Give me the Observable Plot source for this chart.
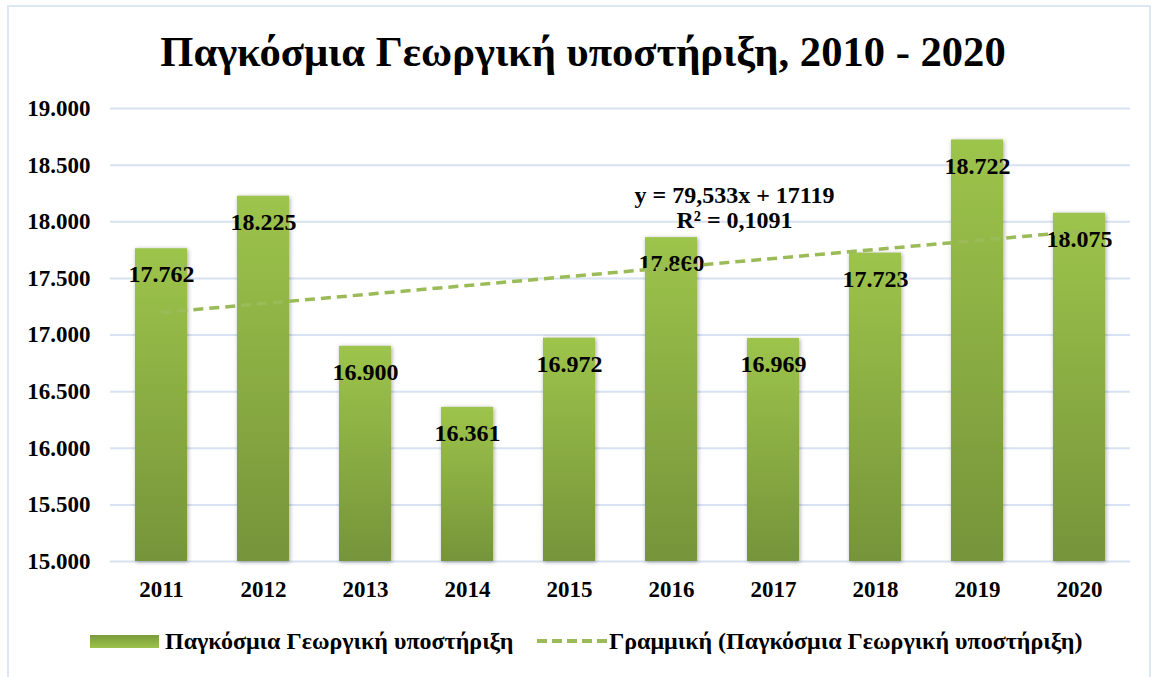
<!DOCTYPE html>
<html>
<head>
<meta charset="utf-8">
<script src="https://cdn.jsdelivr.net/npm/d3@7"></script>
<script src="https://cdn.jsdelivr.net/npm/@observablehq/plot@0.6"></script>
<style>
  body { margin: 0; background: #fff; font-family: "Liberation Serif", "Times New Roman", serif; }
  #page { position: relative; width: 1153px; height: 677px; overflow: hidden; }
  #frame { position: absolute; left: 7px; top: 5px; width: 1144px; height: 700px; border: 2px solid #dce6f4; box-sizing: border-box; }
  #title { position: absolute; left: 0; top: 22px; width: 1166px; height: 60px; line-height: 60px; text-align: center; font-weight: bold; font-size: 42.6px; color: #000; white-space: nowrap; }
  #chart { position: absolute; left: 0; top: 80px; }
  #legend { position: absolute; left: 0; top: 626px; width: 1153px; height: 30px; font-weight: bold; font-size: 24px; color: #000; }
  .lg { position: absolute; white-space: nowrap; line-height: 30px; top: 0; }
</style>
</head>
<body>
<div id="page">
  <div id="frame"></div>
  <div id="title"></div>
  <div id="chart"></div>
  <div id="legend"></div>
</div>
<script>
const titleText = "Παγκόσμια Γεωργική υποστήριξη, 2010 - 2020";
const seriesName = "Παγκόσμια Γεωργική υποστήριξη";
const trendName = "Γραμμική (Παγκόσμια Γεωργική υποστήριξη)";
const years = ["2011", "2012", "2013", "2014", "2015", "2016", "2017", "2018", "2019", "2020"];
const values = [17762, 18225, 16900, 16361, 16972, 17860, 16969, 17723, 18722, 18075];
const yTicks = [15000, 15500, 16000, 16500, 17000, 17500, 18000, 18500, 19000];
const trendSlope = 79.533;
const trendIntercept = 17119;
const trendR2 = "0,1091";
const equationLines = ["y = 79,533x + 17119", "R² = " + trendR2];

const loc = d3.formatLocale({decimal: ",", thousands: ".", grouping: [3], currency: ["", "€"]});
const fmt = loc.format(",.0f");

const data = years.map((year, i) => ({year, value: values[i]}));
const trend = years.map((year, i) => ({year, value: trendIntercept + trendSlope * (i + 1)}));

document.getElementById("title").textContent = titleText;

const NS = "http://www.w3.org/2000/svg";
function defsMark() {
  const defs = document.createElementNS(NS, "defs");
  const g = document.createElementNS(NS, "linearGradient");
  g.setAttribute("id", "barGrad");
  g.setAttribute("x1", "0"); g.setAttribute("y1", "0");
  g.setAttribute("x2", "0"); g.setAttribute("y2", "1");
  [["0%", "#9dc44b"], ["100%", "#76943a"]].forEach(([o, c]) => {
    const s = document.createElementNS(NS, "stop");
    s.setAttribute("offset", o); s.setAttribute("stop-color", c);
    g.appendChild(s);
  });
  defs.appendChild(g);
  return defs;
}

const font = "'Liberation Serif', 'Times New Roman', serif";
const chart = Plot.plot({
  width: 1153,
  height: 530,
  marginLeft: 110,
  marginRight: 23,
  marginTop: 28,
  marginBottom: 49,
  style: {fontFamily: font, fontWeight: "bold", fontSize: "23px", color: "#000", background: "transparent", overflow: "visible"},
  x: {domain: years, paddingInner: 0.49, paddingOuter: 0.245, round: false, label: null},
  y: {domain: [15000, 19000], label: null},
  marks: [
    defsMark,
    Plot.ruleY(yTicks, {stroke: "#d7e2f2", strokeWidth: 2, strokeOpacity: 1}),
    Plot.barY(data, {x: "year", y1: 15000, y2: "value", fill: "url(#barGrad)"}),
    Plot.text(data, {x: "year", y: "value", text: d => fmt(d.value), dy: 26, fontSize: 24, fontWeight: "bold", fill: "#000"}),
    Plot.line(trend, {x: "year", y: "value", stroke: "#9bbb59", strokeWidth: 3.5, strokeDasharray: "10,6", strokeLinecap: "butt"}),
    Plot.text([equationLines.join("\n")], {x: () => "2016", y: () => 18122, dx: 63, text: d => d, fontSize: 24, fontWeight: "bold", lineHeight: 1.04, fill: "#000"}),
    Plot.axisX({tickSize: 0, tickPadding: 19, fontSize: 23, fontWeight: "bold"}),
    Plot.axisY({ticks: yTicks, tickSize: 0, tickPadding: 20, tickFormat: fmt, fontSize: 23, fontWeight: "bold"})
  ]
});
const barG = chart.querySelector('g[aria-label="bar"]');
if (barG) barG.style.filter = "drop-shadow(1.5px 1.5px 2px rgba(0,0,0,0.35))";
document.getElementById("chart").appendChild(chart);

// legend
const legend = document.getElementById("legend");
const sw = document.createElement("div");
sw.className = "lg";
Object.assign(sw.style, {left: "90px", top: "9px", width: "69px", height: "13px", background: "linear-gradient(#7a9a3a, #9cc34b)"});
legend.appendChild(sw);
const t1 = document.createElement("div");
t1.className = "lg"; t1.style.left = "165px"; t1.textContent = seriesName;
legend.appendChild(t1);
const dash = document.createElementNS(NS, "svg");
dash.setAttribute("width", "72"); dash.setAttribute("height", "10");
dash.style.position = "absolute"; dash.style.left = "536px"; dash.style.top = "10px";
const ln = document.createElementNS(NS, "line");
ln.setAttribute("x1", "1"); ln.setAttribute("x2", "71"); ln.setAttribute("y1", "5"); ln.setAttribute("y2", "5");
ln.setAttribute("stroke", "#9bbb59"); ln.setAttribute("stroke-width", "4"); ln.setAttribute("stroke-dasharray", "10,5");
dash.appendChild(ln);
legend.appendChild(dash);
const t2 = document.createElement("div");
t2.className = "lg"; t2.style.left = "609px"; t2.textContent = trendName;
legend.appendChild(t2);
</script>
</body>
</html>
